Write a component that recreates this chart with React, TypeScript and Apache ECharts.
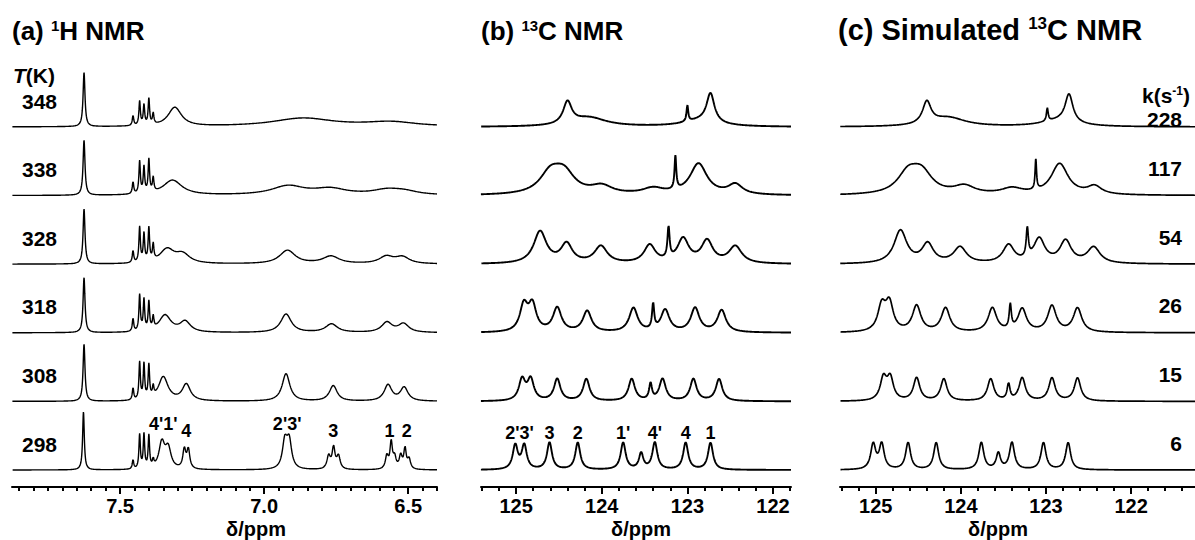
import { useEffect, useRef } from 'react';
import * as echarts from 'echarts';

const FONT = '"Liberation Sans", Arial, sans-serif';

// ---------- DATA ----------
// Each spectrum is a list of resolved lines: [chemical shift (ppm), height, half-width at half-height (ppm)]
// Heights are in the stacked plot's intensity units.

// (a) 1H NMR, bottom (298 K) to top (348 K)
const temperaturesK = [298, 308, 318, 328, 338, 348];
const H298 = [
  [7.627, 58, 0.0035],
  [7.455, 9, 0.003], [7.432, 34, 0.003], [7.417, 34, 0.003], [7.4, 32, 0.003], [7.385, 7, 0.003],
  [7.355, 26, 0.012], [7.333, 20, 0.012],
  [7.277, 19, 0.006], [7.263, 19, 0.006],
  [6.928, 27, 0.01], [6.913, 27, 0.01],
  [6.776, 13, 0.007], [6.759, 21, 0.006], [6.742, 13, 0.007],
  [6.574, 13, 0.006], [6.559, 26, 0.005], [6.547, 11, 0.006],
  [6.526, 13, 0.006], [6.511, 20, 0.005], [6.497, 10, 0.006],
];
const H308 = [
  [7.625, 57, 0.004],
  [7.455, 12, 0.003], [7.432, 37, 0.003], [7.417, 35, 0.003], [7.4, 33, 0.003], [7.385, 10, 0.003],
  [7.35, 24, 0.02],
  [7.27, 16.5, 0.017],
  [6.924, 27.5, 0.016],
  [6.76, 15.5, 0.016],
  [6.57, 16, 0.016], [6.514, 13.5, 0.016],
];
const H318 = [
  [7.625, 55, 0.004],
  [7.455, 13, 0.003], [7.432, 36, 0.003], [7.417, 31, 0.003], [7.4, 28, 0.003], [7.385, 12, 0.003],
  [7.344, 17, 0.025],
  [7.274, 10.5, 0.022],
  [6.924, 18.5, 0.022],
  [6.766, 8.5, 0.025],
  [6.574, 10, 0.022], [6.516, 8.5, 0.022],
];
const H328 = [
  [7.625, 55, 0.004],
  [7.455, 12, 0.003], [7.432, 35, 0.003], [7.417, 28, 0.003], [7.4, 33, 0.003], [7.385, 16, 0.003],
  [7.337, 14, 0.03], [7.283, 9, 0.03],
  [6.919, 13.5, 0.033],
  [6.768, 7.5, 0.035],
  [6.576, 7, 0.03], [6.52, 6.5, 0.03],
];
const H338 = [
  [7.625, 55, 0.004],
  [7.455, 12, 0.003], [7.432, 32, 0.003], [7.417, 26, 0.003], [7.4, 33, 0.003], [7.385, 14, 0.003],
  [7.318, 15, 0.04],
  [6.917, 9, 0.07],
  [6.77, 6, 0.07],
  [6.575, 4.5, 0.06], [6.515, 3.5, 0.06],
];
const H348 = [
  [7.625, 54, 0.004],
  [7.455, 10, 0.003], [7.432, 24, 0.003], [7.417, 20, 0.003], [7.4, 26, 0.003], [7.385, 11, 0.003],
  [7.31, 19, 0.028],
  [6.865, 8.5, 0.13],
  [6.56, 4.5, 0.11],
];

// (b) experimental 13C NMR, bottom (298 K) to top (348 K)
const C298 = [
  [125.01, 24, 0.035], [124.905, 24, 0.035], [124.61, 27, 0.035], [124.28, 27, 0.035],
  [123.75, 27, 0.035], [123.54, 16, 0.03], [123.38, 27, 0.035], [123.02, 27, 0.035], [122.73, 27, 0.035],
];
const C308 = [
  [124.93, 21, 0.045], [124.83, 21, 0.045], [124.52, 22, 0.045], [124.18, 22, 0.045],
  [123.65, 22, 0.045], [123.43, 16, 0.02], [123.29, 22, 0.045], [122.93, 22, 0.045], [122.63, 22, 0.045],
];
const C318 = [
  [124.91, 26, 0.055], [124.81, 26, 0.055], [124.52, 24, 0.06], [124.17, 21, 0.06],
  [123.63, 24, 0.06], [123.4, 25, 0.015], [123.26, 22, 0.06], [122.91, 24, 0.06], [122.6, 22, 0.06],
];
const C328 = [
  [124.72, 32, 0.09], [124.41, 19, 0.08], [124.01, 17, 0.09], [123.44, 18, 0.08],
  [123.22, 31, 0.015], [123.05, 24, 0.08], [122.77, 22, 0.08], [122.44, 17, 0.09],
];
const C338 = [
  [124.6, 20, 0.15], [124.44, 20, 0.15], [124.0, 8, 0.15], [123.4, 6, 0.15],
  [123.14, 33, 0.012], [122.87, 31, 0.12], [122.44, 10, 0.1],
];
const C348 = [
  [124.4, 22, 0.06], [124.15, 9, 0.25], [123.0, 16, 0.012], [122.73, 29, 0.055], [122.85, 6, 0.25],
];

// (c) simulated 13C NMR, bottom (k = 6) to top (k = 228)
const rateConstants = [6, 15, 26, 54, 117, 228];
const S6 = [
  [125.03, 25, 0.035], [124.93, 25, 0.035], [124.62, 27, 0.035], [124.29, 27, 0.035],
  [123.76, 27, 0.035], [123.56, 16, 0.03], [123.4, 27, 0.035], [123.03, 27, 0.035], [122.74, 27, 0.035],
];
const S15 = [
  [124.91, 22, 0.045], [124.83, 22, 0.045], [124.52, 23, 0.045], [124.2, 22, 0.045],
  [123.65, 22, 0.045], [123.44, 16, 0.02], [123.28, 23, 0.045], [122.93, 23, 0.045], [122.63, 23, 0.045],
];
const S26 = [
  [124.93, 25, 0.055], [124.84, 27.5, 0.055], [124.52, 26, 0.06], [124.18, 24, 0.06],
  [123.63, 24, 0.06], [123.42, 24, 0.015], [123.28, 23, 0.06], [122.93, 26, 0.06], [122.63, 24, 0.06],
];
const S54 = [
  [124.71, 33, 0.09], [124.39, 19, 0.08], [124.01, 16, 0.09], [123.44, 18, 0.08],
  [123.22, 29, 0.015], [123.08, 24, 0.08], [122.77, 22, 0.08], [122.44, 16, 0.09],
];
const S117 = [
  [124.62, 20, 0.15], [124.46, 20, 0.15], [123.96, 8, 0.15], [123.4, 6, 0.15],
  [123.12, 30, 0.01], [122.84, 31, 0.12], [122.43, 8, 0.1],
];
const S228 = [
  [124.4, 22, 0.06], [124.15, 9, 0.25], [122.985, 13, 0.012], [122.73, 28, 0.055], [122.85, 6, 0.25],
];

// axis tick labels
const ticksH = [7.5, 7.0, 6.5];
const ticksC = [125, 124, 123, 122];

// peak assignments on the bottom traces: [label, shift]
const assignH = [["4'1'", 7.35], ['4', 7.27], ["2'3'", 6.92], ['3', 6.76], ['1', 6.565], ['2', 6.505]];
const assignC = [["2'3'", 124.96], ['3', 124.61], ['2', 124.28], ["1'", 123.75], ["4'", 123.38], ['4', 123.02], ['1', 122.73]];

// ---------- LAYOUT ----------
const GRID_TOP = 47;
const Y_MAX = 440;
const BASE0 = 17;
const GAP = 68.6;
const baseVal = (i: number) => BASE0 + i * GAP;
const basePx = (i: number) => GRID_TOP + Y_MAX - baseVal(i);

const panels = [
  { left: 12, width: 425, min: 6.4, max: 7.875, minorStep: 0.05, step: 0.0008, ticks: ticksH, dec: 1,
    spectra: [H298, H308, H318, H328, H338, H348], lw: 1.4, labels: assignH, labelY: [63, 56, 63, 56, 56, 56] },
  { left: 481, width: 310, min: 121.79, max: 125.41, minorStep: 0.2, step: 0.003, ticks: ticksC, dec: 0,
    spectra: [C298, C308, C318, C328, C338, C348], lw: 1.9, labels: assignC, labelY: [54, 54, 54, 54, 54, 54, 54] },
  { left: 840, width: 355, min: 121.25, max: 125.42, minorStep: 0.2, step: 0.003, ticks: ticksC, dec: 0,
    spectra: [S6, S15, S26, S54, S117, S228], lw: 1.7, labels: [], labelY: [] },
];

function trace(peaks: number[][], min: number, max: number, step: number, offset: number) {
  const n = Math.round((max - min) / step);
  const out: number[][] = [];
  for (let k = 0; k <= n; k++) {
    const x = min + k * step;
    let y = offset;
    for (const [p, h, w] of peaks) {
      const d = (x - p) / w;
      y += h / (1 + d * d);
    }
    out.push([x, y]);
  }
  return out;
}

function minorTicks(min: number, max: number, step: number) {
  const out: number[] = [];
  const start = Math.ceil(min / step - 1e-9);
  const end = Math.floor(max / step + 1e-9);
  for (let k = start; k <= end; k++) out.push(+(k * step).toFixed(4));
  return out;
}

function buildOption() {
  const grid: any[] = [];
  const xAxis: any[] = [];
  const yAxis: any[] = [];
  const series: any[] = [];

  panels.forEach((p, pi) => {
    grid.push({ left: p.left, top: GRID_TOP, width: p.width, height: Y_MAX });
    yAxis.push({ gridIndex: pi, type: 'value', min: 0, max: Y_MAX, show: false });
    xAxis.push({
      gridIndex: pi, type: 'value', position: 'bottom', min: p.min, max: p.max, inverse: true,
      axisLine: { show: true, onZero: false, lineStyle: { color: '#000', width: 2 } },
      axisTick: { show: true, customValues: minorTicks(p.min, p.max, p.minorStep), length: 4, lineStyle: { color: '#000', width: 2 } },
      axisLabel: { show: false }, splitLine: { show: false },
    });
    xAxis.push({
      gridIndex: pi, type: 'value', position: 'bottom', min: p.min, max: p.max, inverse: true,
      axisLine: { show: false, onZero: false },
      axisTick: { show: true, customValues: p.ticks, length: 7, lineStyle: { color: '#000', width: 2 } },
      axisLabel: {
        show: true, customValues: p.ticks, margin: 9, color: '#000', fontSize: 20, fontWeight: 'bold', fontFamily: FONT,
        formatter: (v: number) => v.toFixed(p.dec),
      },
      splitLine: { show: false },
    });
    p.spectra.forEach((peaks, i) => {
      series.push({
        type: 'line', xAxisIndex: pi * 2, yAxisIndex: pi, symbol: 'none', silent: true,
        lineStyle: { color: '#000', width: p.lw }, data: trace(peaks, p.min, p.max, p.step, baseVal(i)),
      });
    });
    if (p.labels.length) {
      series.push({
        type: 'scatter', xAxisIndex: pi * 2, yAxisIndex: pi, symbolSize: 1, silent: true,
        itemStyle: { color: 'rgba(255,255,255,0)', opacity: 1 },
        label: {
          show: true, position: 'inside', formatter: (d: any) => d.name, color: '#000', opacity: 1,
          textBorderWidth: 0, textBorderColor: 'transparent',
          fontSize: 18, fontWeight: 'bold', fontFamily: FONT,
        },
        data: p.labels.map((l: any, k: number) => ({ name: l[0], value: [l[1], p.labelY[k]] })),
      });
    }
  });

  const bold = (size: number) => ({ fontSize: size, fontWeight: 'bold', fontFamily: FONT, fill: '#000' });
  const rich = (size: number, sup: number) => ({
    n: { ...bold(size), verticalAlign: 'top' },
    s: { ...bold(sup), verticalAlign: 'top' },
    i: { ...bold(size), fontStyle: 'italic', verticalAlign: 'top' },
  });

  const graphic: any[] = [
    { type: 'text', left: 12, top: 18, style: { text: '{n|(a) }{s|1}{n|H NMR}', rich: rich(26, 15), ...bold(26) } },
    { type: 'text', left: 481, top: 18, style: { text: '{n|(b) }{s|13}{n|C NMR}', rich: rich(26, 15), ...bold(26) } },
    { type: 'text', left: 838, top: 15, style: { text: '{n|(c) Simulated }{s|13}{n|C NMR}', rich: rich(29, 17), ...bold(29) } },
    { type: 'text', left: 13, top: 65, style: { text: '{i|T}{n|(K)}', rich: rich(21, 13), ...bold(21) } },
    { type: 'text', right: 5, top: 85, style: { text: '{n|k(s}{s|-1}{n|)}', rich: rich(21, 12), ...bold(21) } },
    { type: 'text', x: 256, y: 529, style: { text: 'δ/ppm', ...bold(20), align: 'center', verticalAlign: 'middle' } },
    { type: 'text', x: 641, y: 529, style: { text: 'δ/ppm', ...bold(20), align: 'center', verticalAlign: 'middle' } },
    { type: 'text', x: 998, y: 529, style: { text: 'δ/ppm', ...bold(20), align: 'center', verticalAlign: 'middle' } },
  ];
  temperaturesK.forEach((t, i) => {
    graphic.push({ type: 'text', x: 22, y: basePx(i) - 26, style: { text: String(t), ...bold(21), align: 'left', verticalAlign: 'middle' } });
  });
  rateConstants.forEach((k, i) => {
    const y = i === rateConstants.length - 1 ? 119 : basePx(i) - 27;
    graphic.push({ type: 'text', x: 1182, y, style: { text: String(k), ...bold(21), align: 'right', verticalAlign: 'middle' } });
  });

  return { animation: false, backgroundColor: '#fff', grid, xAxis, yAxis, series, graphic };
}

export default function App() {
  const ref = useRef<HTMLDivElement>(null);
  useEffect(() => {
    document.body.style.margin = '0';
    const chart = echarts.init(ref.current as HTMLDivElement, null, { renderer: 'svg' });
    chart.setOption(buildOption() as any);
    return () => chart.dispose();
  }, []);
  return <div ref={ref} style={{ width: 1195, height: 540 }} />;
}
